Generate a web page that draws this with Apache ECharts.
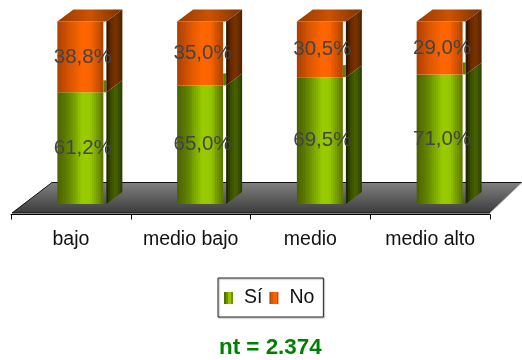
<!DOCTYPE html>
<html>
<head>
<meta charset="utf-8">
<style>html,body{margin:0;padding:0;background:#fff}#chart{width:522px;height:360px}</style>
<script src="https://cdn.jsdelivr.net/npm/echarts@6/dist/echarts.min.js"></script>
</head>
<body>
<div id="chart"></div>
<script>
const categories = ['bajo', 'medio bajo', 'medio', 'medio alto'];
const si = [61.2, 65.0, 69.5, 71.0];
const no = [38.8, 35.0, 30.5, 29.0];
const footnote = 'nt = 2.374';

const FONT = '"Liberation Sans", Arial, sans-serif';
const BAR_W = 46, BAR_SHIFT = 9.5, GAP = 3, DEPTH_X = 16, DEPTH_Y = 12;

// Banded horizontal shading, imitating a cylinder-like sheen.
function bands(stops, steps) {
  const out = [];
  const at = t => {
    let i = 0;
    while (i < stops.length - 2 && t > stops[i + 1][0]) i++;
    const [t0, c0] = stops[i], [t1, c1] = stops[i + 1];
    const k = Math.min(1, Math.max(0, (t - t0) / (t1 - t0)));
    return 'rgb(' + c0.map((v, j) => Math.round(v + (c1[j] - v) * k)).join(',') + ')';
  };
  for (let s = 0; s < steps; s++) {
    const col = at((s + 0.5) / steps);
    out.push({ offset: s / steps, color: col }, { offset: (s + 1) / steps, color: col });
  }
  return new echarts.graphic.LinearGradient(0, 0, 1, 0, out);
}

const greenFront = [[0,[74,96,0]],[0.25,[100,135,0]],[0.55,[153,204,0]],[0.72,[150,200,0]],[1,[88,115,0]]];
const orangeFront = [[0,[170,62,0]],[0.25,[215,85,0]],[0.55,[255,102,0]],[0.72,[250,100,0]],[1,[170,66,0]]];
const greenSide = [[0,[24,30,0]],[0.3,[58,78,0]],[0.6,[72,98,0]],[1,[44,60,0]]];
const orangeSide = [[0,[36,16,0]],[0.3,[100,42,0]],[0.6,[125,50,0]],[1,[78,34,0]]];
const orangeTop = [[0,[150,60,0]],[0.5,[205,82,0]],[1,[120,50,0]]];

const fills = {
  'Sí': { front: bands(greenFront, 24), side: bands(greenSide, 8), stub: '#5f8000' },
  'No': { front: bands(orangeFront, 24), side: bands(orangeSide, 8), top: bands(orangeTop, 24) }
};

const pct = v => v.toFixed(1).replace('.', ',') + '%';

function poly(points, fill) {
  return { type: 'polygon', shape: { points }, style: { fill } };
}

// One stacked segment: front face, right side wall, back patch and value text.
function segment(name) {
  return function (params, api) {
    const base = api.coord([api.value(0), api.value(1)]);
    const end = api.coord([api.value(0), api.value(2)]);
    const left = base[0] + BAR_SHIFT - BAR_W / 2;
    const right = left + BAR_W;
    const sideL = right + GAP;
    const sideR = sideL + DEPTH_X;
    const yB = base[1], yT = end[1];
    const f = fills[name];
    const children = [
      { type: 'rect', shape: { x: left, y: yT, width: BAR_W, height: yB - yT }, style: { fill: f.front } },
      poly([[sideL, yB], [sideL, yT], [sideR, yT - DEPTH_Y], [sideR, yB - DEPTH_Y]], f.side)
    ];
    if (f.stub) {
      children.push({ type: 'rect', shape: { x: right, y: yT - DEPTH_Y, width: GAP, height: DEPTH_Y }, style: { fill: f.stub } });
    }
    if (f.top) {
      children.push(poly([[left, yT], [sideL, yT], [sideR, yT - DEPTH_Y], [left + DEPTH_X, yT - DEPTH_Y]], f.top));
    }
    children.push({
      type: 'text', z2: 50,
      style: {
        x: base[0] + BAR_SHIFT + 2.5, y: (yB + yT) / 2,
        text: pct(api.value(2) - api.value(1)),
        fill: '#444', font: '20.5px ' + FONT, align: 'center', verticalAlign: 'middle'
      }
    });
    return { type: 'group', children };
  };
}

// Chart floor, laid out from the plot rectangle.
function floor(params) {
  const g = params.coordSys;
  const yFront = g.y + g.height + 9;
  const yBack = yFront - 30.5;
  const xL = g.x + 1, xR = g.x + g.width;
  const pts = [[xL, yFront], [xR, yFront], [xR + 32, yBack], [xL + 40, yBack]];
  return {
    type: 'group',
    children: [
      { type: 'polygon', shape: { points: pts },
        style: { fill: new echarts.graphic.LinearGradient(0, 0, 0, 1, [
          { offset: 0, color: '#808080' }, { offset: 1, color: '#3c3c3c' }]) } },
      { type: 'polyline', shape: { points: [pts[1], pts[0], pts[3], pts[2]] },
        style: { fill: 'none', stroke: '#111', lineWidth: 1 } },
      { type: 'polyline', shape: { points: [pts[1], pts[2]] },
        style: { fill: 'none', stroke: '#b5b5b5', lineWidth: 1 } }
    ]
  };
}

const option = {
  animation: false,
  backgroundColor: '#fff',
  textStyle: { fontFamily: FONT },
  grid: { left: 11, right: 32, top: 21.5, bottom: 156 },
  xAxis: {
    type: 'category', data: categories, offset: 10.5,
    axisLine: { onZero: false, lineStyle: { color: '#000', width: 1 } },
    axisTick: { show: true, length: 5, alignWithLabel: false, lineStyle: { color: '#000' } },
    axisLabel: { color: '#111', fontSize: 19.5, fontFamily: FONT, margin: 15, interval: 0 }
  },
  yAxis: { type: 'value', min: 0, max: 100, show: false, splitLine: { show: false } },
  legend: {
    data: ['Sí', 'No'], left: 218, top: 278,
    icon: 'rect', itemWidth: 9, itemHeight: 12, itemGap: 7,
    padding: [10, 9, 9, 6],
    borderColor: '#222', borderWidth: 1,
    shadowColor: '#aaa', shadowOffsetX: 1, shadowOffsetY: 1, shadowBlur: 1,
    selectedMode: false,
    textStyle: { color: '#111', fontSize: 19.5, fontFamily: FONT, padding: [0, 0, 0, 6] }
  },
  graphic: [{
    type: 'text', left: 219, top: 337,
    style: { text: footnote, fill: '#008000', font: 'bold 22.4px ' + FONT }
  }],
  series: [
    { type: 'custom', name: 'floor', silent: true, z: 1, renderItem: floor, data: [0], encode: { x: 0 } },
    { type: 'custom', name: 'Sí', z: 2, renderItem: segment('Sí'),
      itemStyle: { color: bands(greenFront, 5) },
      encode: { x: 0, y: [1, 2] },
      data: si.map((v, i) => [i, 0, v]) },
    { type: 'custom', name: 'No', z: 3, renderItem: segment('No'),
      itemStyle: { color: bands(orangeFront, 5) },
      encode: { x: 0, y: [1, 2] },
      data: no.map((v, i) => [i, si[i], si[i] + v]) }
  ]
};

echarts.init(document.getElementById('chart'), null, { renderer: 'canvas' }).setOption(option);
</script>
</body>
</html>
